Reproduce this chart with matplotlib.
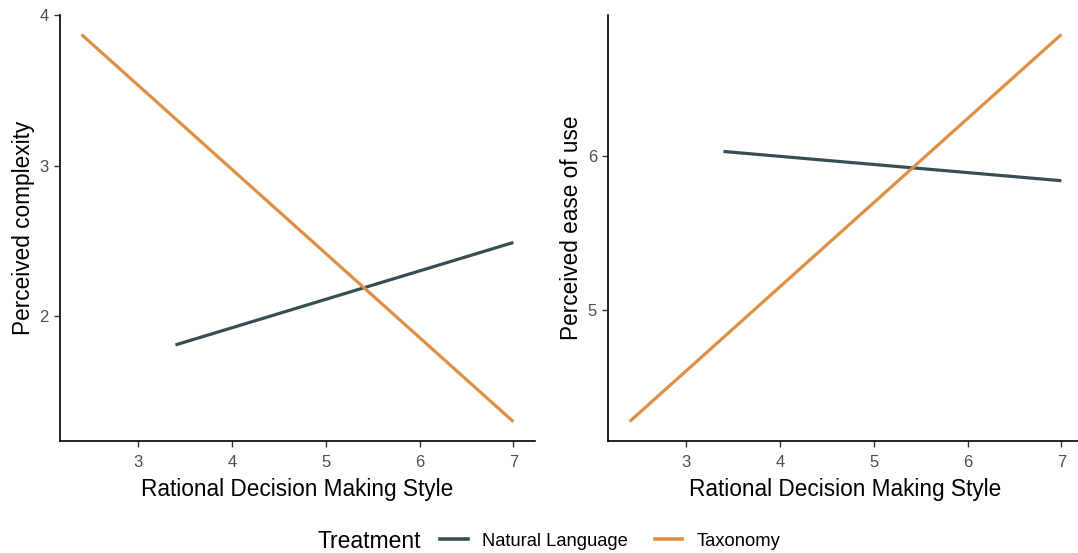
import matplotlib
matplotlib.use("Agg")
import matplotlib.pyplot as plt
from matplotlib.lines import Line2D

plt.rcParams["font.family"] = ["Liberation Sans", "DejaVu Sans"]

# Fitted simple-slope endpoints (x = rational decision making style)
x_natural = [3.4, 7.0]
x_taxonomy = [2.4, 7.0]

complexity_natural = [1.81, 2.49]
complexity_taxonomy = [3.87, 1.30]

ease_natural = [6.03, 5.84]
ease_taxonomy = [4.276, 6.79]

series_names = ["Natural Language", "Taxonomy"]
colors = ["#374E55", "#DF8F44"]

x_ticks = [3, 4, 5, 6, 7]
left_yticks = [2, 3, 4]
right_yticks = [5, 6]

fig = plt.figure(figsize=(10.78, 5.53), dpi=100)
W, H = 1078, 553


def add_panel(left_px, right_px, top_px, bottom_px):
    return fig.add_axes([left_px / W, 1 - bottom_px / H,
                         (right_px - left_px) / W, (bottom_px - top_px) / H])


ax1 = add_panel(60, 535, 15, 441)
ax2 = add_panel(608, 1083, 15, 441)

panels = [
    (ax1, complexity_natural, complexity_taxonomy, "Perceived complexity", left_yticks, (1.172, 4.0)),
    (ax2, ease_natural, ease_taxonomy, "Perceived ease of use", right_yticks, (4.150, 6.916)),
]

for ax, yn, yt, ylabel, yticks, ylim in panels:
    ax.plot(x_natural, yn, color=colors[0], lw=2.3, solid_capstyle="butt")
    ax.plot(x_taxonomy, yt, color=colors[1], lw=2.3, solid_capstyle="butt")
    ax.set_xlim(2.17, 7.23)
    ax.set_ylim(*ylim)
    ax.set_xticks(x_ticks)
    ax.set_yticks(yticks)
    for side in ("top", "right"):
        ax.spines[side].set_visible(False)
    for side in ("left", "bottom"):
        ax.spines[side].set_linewidth(1.2)
        ax.spines[side].set_color("black")
    ax.tick_params(axis="both", length=4, width=1.0, color="#333333",
                   labelsize=12, labelcolor="#4D4D4D")
    ax.tick_params(axis="x", pad=6)
    ax.tick_params(axis="y", pad=4)
    ax.set_xlabel("Rational Decision Making Style", fontsize=16.3, color="black", labelpad=6)
    ax.set_ylabel(ylabel, fontsize=16.3, color="black", labelpad=3)
    ax.patch.set_visible(False)

handles = [Line2D([], [], color=c, lw=2.6) for c in colors]
fig.text(317 / W, 1 - 541 / H, "Treatment", fontsize=16.5, va="center", ha="left")
fig.legend(handles, series_names, loc="center left", bbox_to_anchor=(433 / W, 1 - 541 / H),
           ncol=2, frameon=False, fontsize=13.2, handlelength=1.5, handletextpad=0.75,
           columnspacing=1.5, borderaxespad=0)

fig.savefig("out.png", dpi=100)
